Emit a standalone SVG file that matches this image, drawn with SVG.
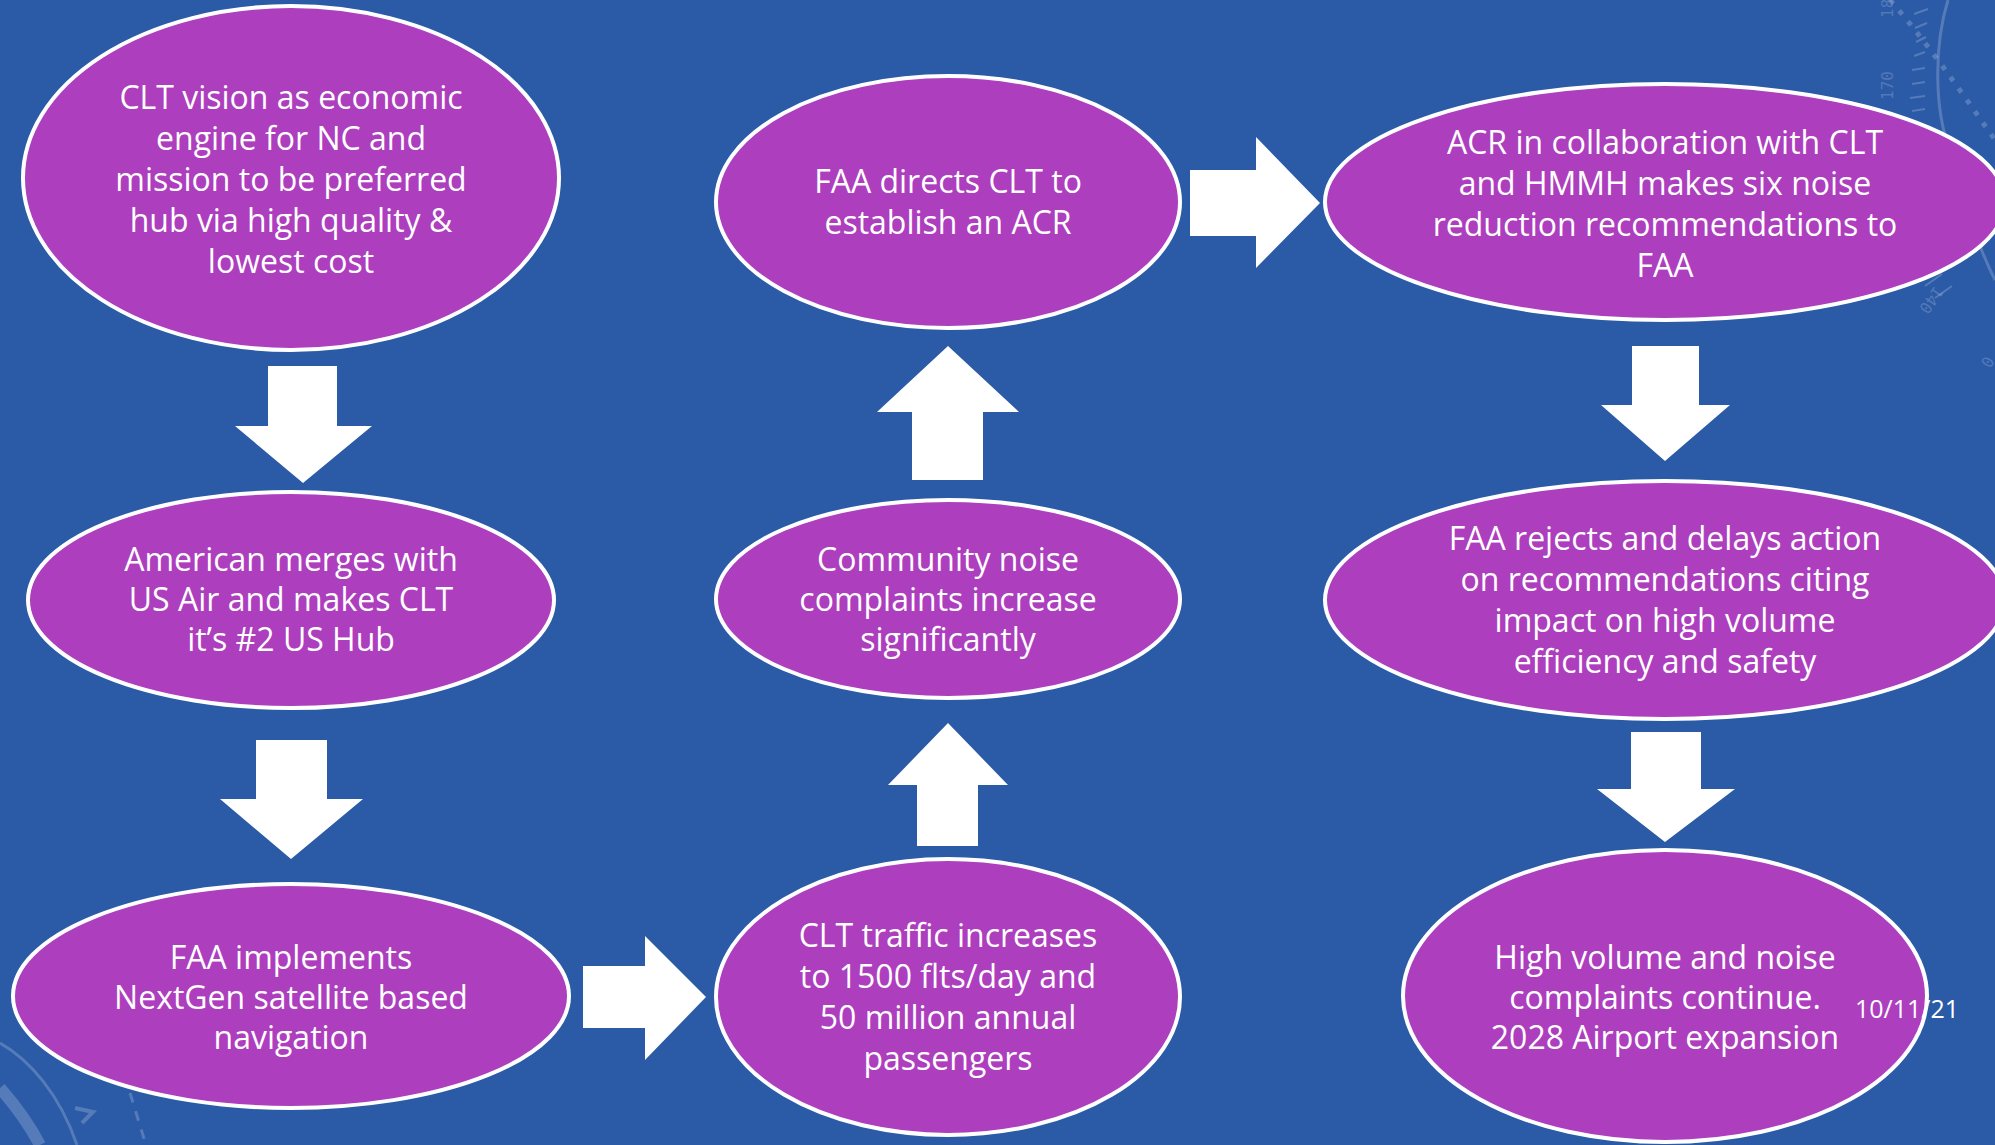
<svg xmlns="http://www.w3.org/2000/svg" width="1995" height="1145" viewBox="0 0 1995 1145">
<defs>
<style>
.node{fill:#AD3EBE;stroke:#FFFFFF;stroke-width:4}
.lbl{font-family:"Open Sans","Noto Sans",sans-serif;font-size:32px;fill:#FFFFFF;text-anchor:middle}
.arrow{fill:#FFFFFF;stroke:none}
.deco{fill:none;stroke:#FFFFFF;stroke-opacity:0.2}
.decot{font-family:"DejaVu Sans Mono","Liberation Mono",monospace;font-size:16px;fill:#FFFFFF;fill-opacity:0.2}
.date{font-family:"Open Sans","Noto Sans",sans-serif;font-size:25px;fill:#FFFFFF}
</style>
</defs>
<rect width="1995" height="1145" fill="#2B5AA7"/>
<g id="decoration">
<path class="deco" stroke-width="3" d="M1948,0 C1934,45 1934,110 1950,150 C1960,190 1975,240 1995,280"/>
<path class="deco" stroke-width="5" stroke-dasharray="5,9" d="M1890,0 C1925,40 1960,90 1995,140"/>
<g class="deco" stroke-width="2">
<line x1="1914" y1="14" x2="1928" y2="9"/>
<line x1="1915" y1="28" x2="1927" y2="23"/>
<line x1="1916" y1="42" x2="1926" y2="37"/>
<line x1="1914" y1="56" x2="1925" y2="52"/>
<line x1="1912" y1="70" x2="1925" y2="68"/>
<line x1="1912" y1="84" x2="1925" y2="82"/>
<line x1="1910" y1="98" x2="1925" y2="96"/>
<line x1="1912" y1="111" x2="1925" y2="109"/>
<line x1="1916" y1="272" x2="1930" y2="262"/>
<line x1="1925" y1="286" x2="1942" y2="274"/>
<line x1="1935" y1="298" x2="1952" y2="286"/>
</g>
<text class="decot" transform="translate(1893,18) rotate(-90)">18</text>
<text class="decot" transform="translate(1893,100) rotate(-90)">170</text>
<text class="decot" transform="translate(1935,285) rotate(125)">140</text>
<text class="decot" transform="translate(1985,355) rotate(120)">0</text>
<path class="deco" stroke-width="3" d="M0,1043 C30,1060 60,1095 77,1145"/>
<path class="deco" stroke-width="12" d="M0,1088 C15,1105 28,1122 40,1145"/>
<path class="deco" stroke-width="4" d="M75,1108 L93,1112 L82,1123"/>
<path class="deco" stroke-width="3" stroke-dasharray="10,9" d="M130,1093 L146,1145"/>
</g>
<g id="connectors">
<polygon class="arrow" points="268,366 337,366 337,426 372,426 303,483 235,426 268,426"/>
<polygon class="arrow" points="256,740 327,740 327,799 363,799 291,859 220,799 256,799"/>
<polygon class="arrow" points="583,966 645,966 645,936 706,997 645,1060 645,1028 583,1028"/>
<polygon class="arrow" points="917,846 978,846 978,785 1008,785 948,723 888,785 917,785"/>
<polygon class="arrow" points="912,480 983,480 983,412 1019,412 948,346 877,412 912,412"/>
<polygon class="arrow" points="1190,170 1256,170 1256,137 1320,203 1256,268 1256,236 1190,236"/>
<polygon class="arrow" points="1632,346 1699,346 1699,405 1730,405 1665,461 1601,405 1632,405"/>
<polygon class="arrow" points="1631,732 1701,732 1701,789 1735,789 1665,842 1597,789 1631,789"/>
</g>
<g id="node1">
<ellipse class="node" cx="291" cy="178" rx="268" ry="172"/>
<text class="lbl" x="291" y="109">CLT vision as economic</text>
<text class="lbl" x="291" y="150">engine for NC and</text>
<text class="lbl" x="291" y="191">mission to be preferred</text>
<text class="lbl" x="291" y="232">hub via high quality &amp;</text>
<text class="lbl" x="291" y="273">lowest cost</text>
</g>
<g id="node2">
<ellipse class="node" cx="291" cy="600" rx="263" ry="108"/>
<text class="lbl" x="291" y="571">American merges with</text>
<text class="lbl" x="291" y="611">US Air and makes CLT</text>
<text class="lbl" x="291" y="651">it’s #2 US Hub</text>
</g>
<g id="node3">
<ellipse class="node" cx="291" cy="996" rx="278" ry="112"/>
<text class="lbl" x="291" y="969">FAA implements</text>
<text class="lbl" x="291" y="1009">NextGen satellite based</text>
<text class="lbl" x="291" y="1049">navigation</text>
</g>
<g id="node4">
<ellipse class="node" cx="948" cy="997" rx="232" ry="138"/>
<text class="lbl" x="948" y="947">CLT traffic increases</text>
<text class="lbl" x="948" y="988">to 1500 flts/day and</text>
<text class="lbl" x="948" y="1029">50 million annual</text>
<text class="lbl" x="948" y="1070">passengers</text>
</g>
<g id="node5">
<ellipse class="node" cx="948" cy="599" rx="232" ry="99"/>
<text class="lbl" x="948" y="571">Community noise</text>
<text class="lbl" x="948" y="611">complaints increase</text>
<text class="lbl" x="948" y="651">significantly</text>
</g>
<g id="node6">
<ellipse class="node" cx="948" cy="202" rx="232" ry="126"/>
<text class="lbl" x="948" y="193">FAA directs CLT to</text>
<text class="lbl" x="948" y="234">establish an ACR</text>
</g>
<g id="node7">
<ellipse class="node" cx="1665" cy="202" rx="340" ry="118"/>
<text class="lbl" x="1665" y="154">ACR in collaboration with CLT</text>
<text class="lbl" x="1665" y="195">and HMMH makes six noise</text>
<text class="lbl" x="1665" y="236">reduction recommendations to</text>
<text class="lbl" x="1665" y="277">FAA</text>
</g>
<g id="node8">
<ellipse class="node" cx="1665" cy="600" rx="340" ry="119"/>
<text class="lbl" x="1665" y="550">FAA rejects and delays action</text>
<text class="lbl" x="1665" y="591">on recommendations citing</text>
<text class="lbl" x="1665" y="632">impact on high volume</text>
<text class="lbl" x="1665" y="673">efficiency and safety</text>
</g>
<g id="node9">
<ellipse class="node" cx="1665" cy="996" rx="262" ry="146"/>
<text class="lbl" x="1665" y="969">High volume and noise</text>
<text class="lbl" x="1665" y="1009">complaints continue.</text>
<text class="lbl" x="1665" y="1049">2028 Airport expansion</text>
</g>
<text class="date" x="1855" y="1018">10/11/21</text>
</svg>
